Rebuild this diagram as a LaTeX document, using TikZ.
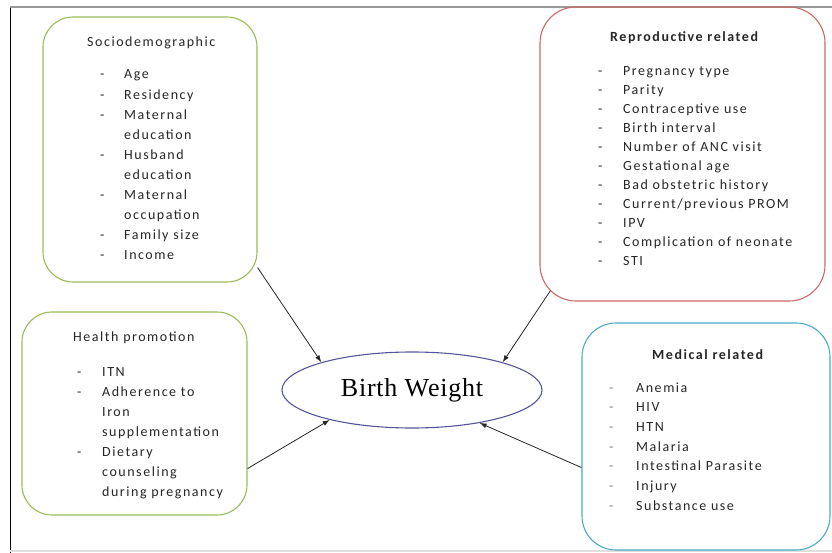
\documentclass[tikz,border=0pt]{standalone}
\usepackage{fontspec}
\setmainfont{Carlito}[LetterSpace=11]
\newfontfamily\bwfont{Liberation Serif}[LetterSpace=3]
\usetikzlibrary{arrows.meta,shapes.geometric,calc}
\definecolor{grn}{HTML}{9BBB59}
\definecolor{rd}{HTML}{C0504D}
\definecolor{blu}{HTML}{4BACC6}
\definecolor{elc}{HTML}{55559A}
\definecolor{txt}{HTML}{262626}
\tikzset{
  box/.style={draw, line width=1.1pt, rounded corners=30pt, inner sep=0pt},
  ttl/.style={anchor=base west, inner sep=0pt, text=txt, font=\fontsize{14}{19.5}\selectfont},
  lst/.style={anchor=base west, inner sep=0pt, text=txt, font=\fontsize{14}{#1}\selectfont},
  arr/.style={draw=txt, line width=0.8pt, -{Latex[length=7pt,width=5pt]}},
}
\begin{document}
\begin{tikzpicture}[x=1pt,y=-1pt]
\useasboundingbox (0,0) rectangle (832,553);
% frame
\draw[black, line width=1pt] (10,8) -- (10,553);
\draw[gray!80, line width=2pt] (10,7) -- (832,7);
\draw[gray!25, line width=1.5pt] (10,551) -- (832,551);

% boxes
\node[box, draw=grn, minimum width=214pt, minimum height=265pt] (socio) at (150,149.5) {};
\node[box, draw=rd!85, rounded corners=36pt, minimum width=285pt, minimum height=294pt] (repro) at (682.5,154) {};
\node[box, draw=grn, minimum width=225pt, minimum height=203pt] (health) at (134.5,413.5) {};
\node[box, draw=blu, rounded corners=34pt, minimum width=248pt, minimum height=227pt] (medic) at (706,436.5) {};

% ellipse
\node[ellipse, draw=elc, line width=1.1pt, inner sep=0pt, minimum width=260pt, minimum height=76pt,
      font=\bwfont\fontsize{26}{30}\selectfont] (bw) at (412,390) {Birth Weight};

% socio text
\node[ttl] (sociot) at (87,47) {Sociodemographic};
\node[lst=20.1] (socil) at (100,79) {\begin{tabular}[t]{@{}p{24pt}@{}l@{}}
- & Age\\
- & Residency\\
- & Maternal\\
  & education\\
- & Husband\\
  & education\\
- & Maternal\\
  & occupation\\
- & Family size\\
- & Income
\end{tabular}};

% repro text
\node[ttl, font=\bfseries\fontsize{14}{19.5}\selectfont] (reprot) at (610,42) {Reproductive related};
\node[lst=19.0] (reprol) at (598,76) {\begin{tabular}[t]{@{}p{25pt}@{}l@{}}
- & Pregnancy type\\
- & Parity\\
- & Contraceptive use\\
- & Birth interval\\
- & Number of ANC visit\\
- & Gestational age\\
- & Bad obstetric history\\
- & Current/previous PROM\\
- & IPV\\
- & Complication of neonate\\
- & STI
\end{tabular}};

% health text
\node[ttl] (healtht) at (73,341) {Health promotion};
\node[lst=20] (healthl) at (77,376) {\begin{tabular}[t]{@{}p{25pt}@{}l@{}}
- & ITN\\
- & Adherence to\\
  & Iron\\
  & supplementation\\
- & Dietary\\
  & counseling\\
  & during pregnancy
\end{tabular}};

% medical text
\node[ttl, font=\bfseries\fontsize{14}{19.5}\selectfont] (medict) at (652,359) {Medical related};
\node[lst=19.7] (medicl) at (609,392) {\begin{tabular}[t]{@{}p{27pt}@{}l@{}}
\textcolor{gray}{-} & Anemia\\
\textcolor{gray}{-} & HIV\\
\textcolor{gray}{-} & HTN\\
\textcolor{gray}{-} & Malaria\\
\textcolor{gray}{-} & Intestinal Parasite\\
\textcolor{gray}{-} & Injury\\
\textcolor{gray}{-} & Substance use
\end{tabular}};

% arrows
\draw[arr] ($(socio.south east)+(0,-15)$) -- (bw.163);
\draw[arr] ($(repro.south west)+(11,-11)$) -- (bw.17.6);
\draw[arr] ($(health.south east)+(0,-47)$) -- (bw.200.8);
\draw[arr] ($(medic.south west)+(0,-83)$) -- (bw.-26.6);
\end{tikzpicture}
\end{document}
